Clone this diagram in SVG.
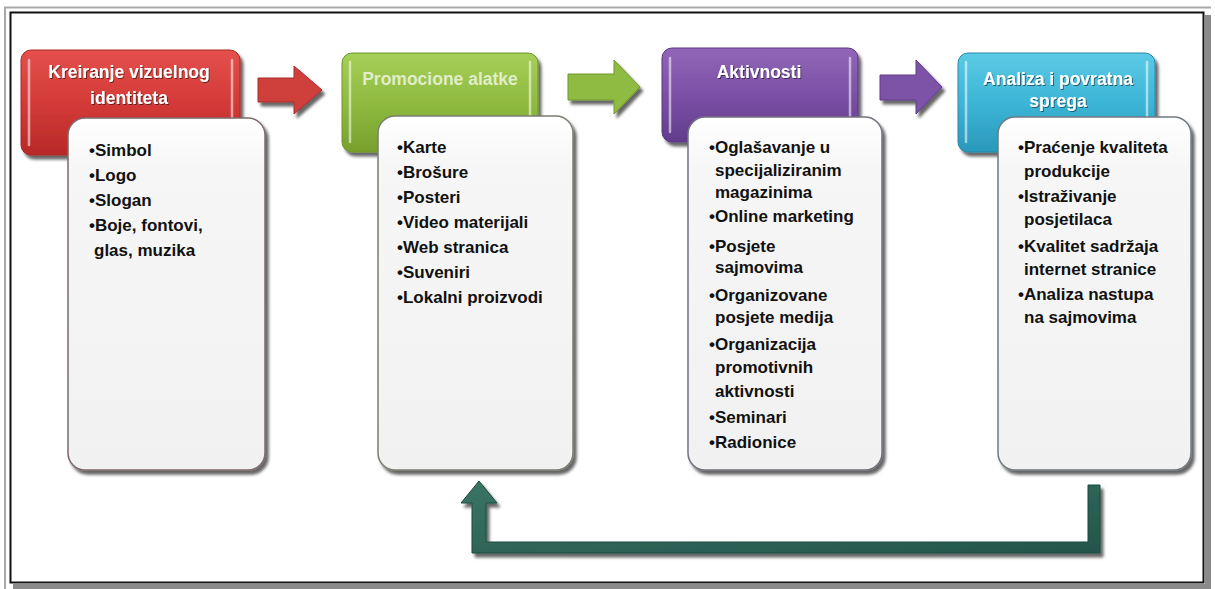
<svg xmlns="http://www.w3.org/2000/svg" width="1215" height="589" viewBox="0 0 1215 589">
<defs>
<filter id="sh" x="-10%" y="-10%" width="130%" height="130%">
<feDropShadow dx="3" dy="4" stdDeviation="1.8" flood-color="#000" flood-opacity="0.6"/>
</filter>
<filter id="ts" x="-5%" y="-20%" width="110%" height="150%">
<feDropShadow dx="1" dy="1" stdDeviation="0.6" flood-color="#000" flood-opacity="0.5"/>
</filter>
<linearGradient id="gRed" x1="0" y1="0" x2="0" y2="1"><stop offset="0" stop-color="#e4504c"/><stop offset="0.5" stop-color="#d43a38"/><stop offset="1" stop-color="#b82a28"/></linearGradient>
<linearGradient id="gGreen" x1="0" y1="0" x2="0" y2="1"><stop offset="0" stop-color="#a6cf58"/><stop offset="0.5" stop-color="#8fbb40"/><stop offset="1" stop-color="#77a02c"/></linearGradient>
<linearGradient id="gPurple" x1="0" y1="0" x2="0" y2="1"><stop offset="0" stop-color="#9266b8"/><stop offset="0.5" stop-color="#7b50a6"/><stop offset="1" stop-color="#633c8c"/></linearGradient>
<linearGradient id="gCyan" x1="0" y1="0" x2="0" y2="1"><stop offset="0" stop-color="#5ccbe6"/><stop offset="0.5" stop-color="#3cb5d6"/><stop offset="1" stop-color="#2a98bb"/></linearGradient>
<linearGradient id="gBody" x1="0" y1="0" x2="0" y2="1"><stop offset="0" stop-color="#ffffff"/><stop offset="0.15" stop-color="#f6f6f6"/><stop offset="1" stop-color="#f1f1f1"/></linearGradient>
<linearGradient id="gTeal" x1="0" y1="0" x2="1" y2="1"><stop offset="0" stop-color="#3a7565"/><stop offset="1" stop-color="#24554a"/></linearGradient>
</defs>
<style>
.hdr{font-family:"Liberation Sans",Arial,sans-serif;font-weight:bold;font-size:17.5px;fill:#ffffff;text-anchor:middle}
.li{font-family:"Liberation Sans",Arial,sans-serif;font-weight:bold;font-size:17px;fill:#111111}
.body{fill:url(#gBody);stroke-width:1.5}
.hl{stroke:#ffffff;stroke-opacity:0.55;stroke-width:2.5;fill:none;stroke-linecap:round}
</style>
<rect width="1215" height="589" fill="#ffffff"/>
<!-- frame -->
<g id="frame">
<line x1="4" y1="7.5" x2="1211" y2="7.5" stroke="#a8a8a8" stroke-width="2"/>
<line x1="5" y1="7" x2="5" y2="589" stroke="#a8a8a8" stroke-width="2"/>
<rect x="1205" y="15" width="6" height="574" fill="#8a8a8a"/>
<rect x="13" y="584" width="1198" height="5" fill="#8a8a8a"/>
<rect x="10.5" y="12.5" width="1193" height="570" fill="none" stroke="#111" stroke-width="2"/>
</g>
<!-- connectors -->
<g id="connectors">
<polygon points="258,78 294,78 294,66 322,90 294,114 294,102 258,102" fill="#cf3f3d" stroke="#a82c2a" stroke-width="1" filter="url(#sh)"/>
<polygon points="568,74 614,74 614,60 640,87 614,114 614,100 568,100" fill="#8fbb42" stroke="#6f9a2c" stroke-width="1" filter="url(#sh)"/>
<polygon points="880,75 916,75 916,60 942,87 916,114 916,100 880,100" fill="#7d52a8" stroke="#5e3a88" stroke-width="1" filter="url(#sh)"/>
<polygon points="479,481 497,503 486,503 486,542 1088,542 1088,485 1100,485 1100,553 472,553 472,503 461,503" fill="url(#gTeal)" stroke="#1d4a3e" stroke-width="1" filter="url(#sh)"/>
</g>
<!-- node 1 -->
<g id="node1">
<rect x="21" y="50" width="219" height="105" rx="10" fill="url(#gRed)" stroke="#a52826" stroke-width="1" filter="url(#sh)"/>
<line class="hl" x1="29" y1="60" x2="29" y2="145"/>
<line class="hl" x1="232" y1="60" x2="232" y2="145"/>
<text class="hdr" filter="url(#ts)" x="129" y="78">Kreiranje vizuelnog</text>
<text class="hdr" filter="url(#ts)" x="129" y="104">identiteta</text>
<rect class="body" x="68" y="118" width="197" height="352" rx="17" stroke="#7d6a6a" filter="url(#sh)"/>
<text class="li" x="89" y="156">•Simbol</text>
<text class="li" x="89" y="181">•Logo</text>
<text class="li" x="89" y="206">•Slogan</text>
<text class="li" x="89" y="231">•Boje, fontovi,</text>
<text class="li" x="94" y="256">glas, muzika</text>
</g>
<!-- node 2 -->
<g id="node2">
<rect x="342" y="53" width="196" height="99" rx="10" fill="url(#gGreen)" stroke="#6e9628" stroke-width="1" filter="url(#sh)"/>
<line class="hl" x1="350" y1="62" x2="350" y2="142"/>
<line class="hl" x1="530" y1="62" x2="530" y2="142"/>
<text class="hdr" x="440" y="85" style="fill:#eef5e0" fill-opacity="0.85">Promocione alatke</text>
<rect class="body" x="378" y="116" width="195" height="354" rx="17" stroke="#7b7e70" filter="url(#sh)"/>
<text class="li" x="397" y="153">•Karte</text>
<text class="li" x="397" y="178">•Brošure</text>
<text class="li" x="397" y="203">•Posteri</text>
<text class="li" x="397" y="228">•Video materijali</text>
<text class="li" x="397" y="253">•Web stranica</text>
<text class="li" x="397" y="278">•Suveniri</text>
<text class="li" x="397" y="303">•Lokalni proizvodi</text>
</g>
<!-- node 3 -->
<g id="node3">
<rect x="662" y="48" width="196" height="94" rx="10" fill="url(#gPurple)" stroke="#5a3682" stroke-width="1" filter="url(#sh)"/>
<line class="hl" x1="670" y1="58" x2="670" y2="132"/>
<line class="hl" x1="850" y1="58" x2="850" y2="132"/>
<text class="hdr" filter="url(#ts)" x="759" y="78">Aktivnosti</text>
<rect class="body" x="688" y="117" width="194" height="353" rx="17" stroke="#76707e" filter="url(#sh)"/>
<text class="li" x="709" y="153">•Oglašavanje u</text>
<text class="li" x="715" y="176">specijaliziranim</text>
<text class="li" x="715" y="198">magazinima</text>
<text class="li" x="709" y="222">•Online marketing</text>
<text class="li" x="709" y="252">•Posjete</text>
<text class="li" x="715" y="273">sajmovima</text>
<text class="li" x="709" y="301">•Organizovane</text>
<text class="li" x="715" y="323">posjete medija</text>
<text class="li" x="709" y="350">•Organizacija</text>
<text class="li" x="715" y="373">promotivnih</text>
<text class="li" x="715" y="397">aktivnosti</text>
<text class="li" x="709" y="423">•Seminari</text>
<text class="li" x="709" y="448">•Radionice</text>
</g>
<!-- node 4 -->
<g id="node4">
<rect x="958" y="53" width="197" height="99" rx="10" fill="url(#gCyan)" stroke="#2688a8" stroke-width="1" filter="url(#sh)"/>
<line class="hl" x1="966" y1="62" x2="966" y2="142"/>
<line class="hl" x1="1147" y1="62" x2="1147" y2="142"/>
<text class="hdr" filter="url(#ts)" x="1058" y="85">Analiza i povratna</text>
<text class="hdr" filter="url(#ts)" x="1058" y="107">sprega</text>
<rect class="body" x="998" y="117" width="193" height="353" rx="17" stroke="#707a80" filter="url(#sh)"/>
<text class="li" x="1018" y="153">•Praćenje kvaliteta</text>
<text class="li" x="1024" y="177">produkcije</text>
<text class="li" x="1018" y="202">•Istraživanje</text>
<text class="li" x="1024" y="225">posjetilaca</text>
<text class="li" x="1018" y="252">•Kvalitet sadržaja</text>
<text class="li" x="1024" y="275">internet stranice</text>
<text class="li" x="1018" y="300">•Analiza nastupa</text>
<text class="li" x="1024" y="323">na sajmovima</text>
</g>
</svg>
